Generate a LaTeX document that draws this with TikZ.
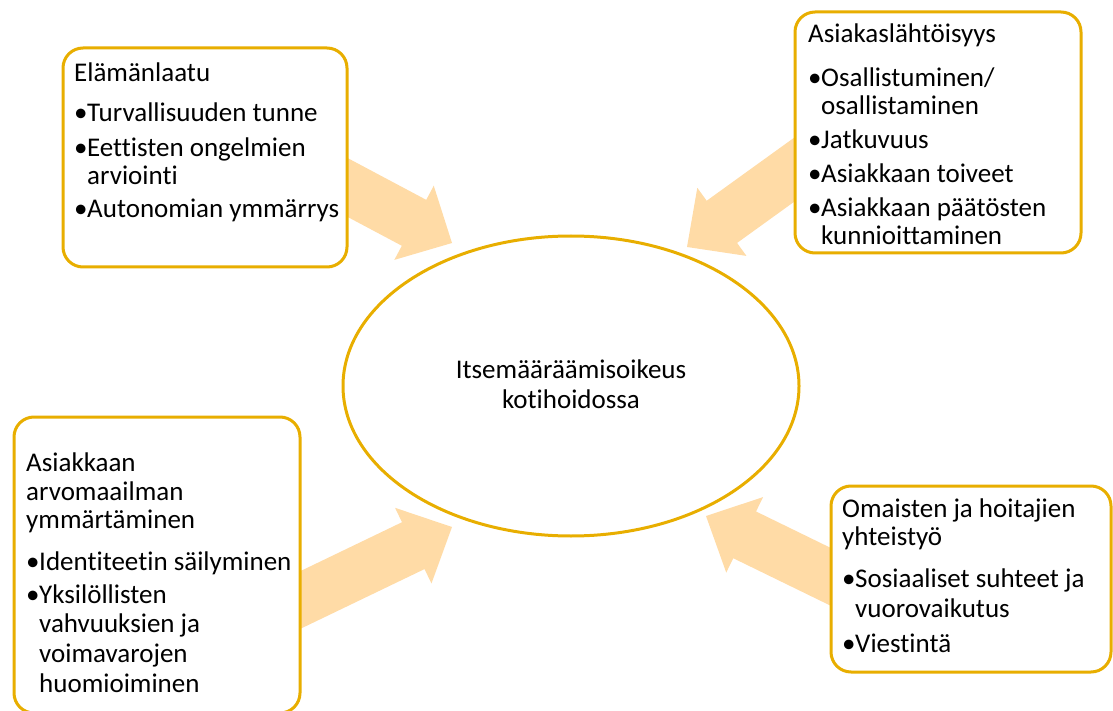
\documentclass[tikz,border=0pt]{standalone}
\usepackage{fontspec}
\setmainfont{Carlito}[Ligatures=NoCommon]
\usetikzlibrary{shapes.geometric}
\definecolor{gold}{RGB}{232,174,0}
\definecolor{peach}{RGB}{255,219,166}
\newcommand\bulletmark{\makebox[13pt][l]{•}}
\newcommand\blockarrow[3]{\fill[peach, shift={(#1)}, rotate=#2] (0,0) -- (-43,42) -- (-43,26) -- (-#3,26) -- (-#3,-26) -- (-43,-26) -- (-43,-42) -- cycle;}
\begin{document}
\begin{tikzpicture}[x=1pt,y=-1pt,
  box/.style={draw=gold, line width=3pt, rounded corners=20pt, fill=white, rectangle, anchor=north west, inner sep=0pt, outer sep=0pt},
  txt/.style={anchor=base west, inner sep=0pt, font=\fontsize{27}{28}\selectfont},
  ctxt/.style={anchor=base, inner sep=0pt, font=\fontsize{27}{28}\selectfont}]
\useasboundingbox (0,0) rectangle (1113,711);
% arrow tips
\coordinate (tip1) at (452,243);
\coordinate (tip2) at (687,247);
\coordinate (tip3) at (452,527);
\coordinate (tip4) at (706,516);
\blockarrow{tip1}{-28}{200}
\blockarrow{tip2}{215.8}{200}
\blockarrow{tip3}{25.7}{200}
\blockarrow{tip4}{154}{200}
% boxes
\node[box, minimum width=284pt, minimum height=219pt] (b1) at (63,48) {};
\node[box, minimum width=286pt, minimum height=241pt] (b2) at (795,12) {};
\node[box, minimum width=286pt, minimum height=296pt] (b3) at (14,417) {};
\node[box, minimum width=280pt, minimum height=186pt] (b4) at (831,486) {};
\node[ellipse, draw=gold, line width=3pt, minimum width=456pt, minimum height=300pt, inner sep=0pt] (c) at (571,386) {};
% texts
\foreach \x/\y/\t [count=\k] in {74/82/Elämänlaatu, 74/122/{\bulletmark Turvallisuuden tunne}, 74/157/{\bulletmark Eettisten ongelmien}, 87/185/arviointi, 74/218/{\bulletmark Autonomian ymmärrys}}
  \node[txt] (t1-\k) at (\x,\y) {\t};
\foreach \x/\y/\t [count=\k] in {808/43/Asiakaslähtöisyys, 808/87/{\bulletmark Osallistuminen/}, 821/115/osallistaminen, 808/149/{\bulletmark Jatkuvuus}, 808/183/{\bulletmark Asiakkaan toiveet}, 808/217/{\bulletmark Asiakkaan päätösten}, 821/245/kunnioittaminen}
  \node[txt] (t2-\k) at (\x,\y) {\t};
\foreach \x/\y/\t [count=\k] in {26/471/Asiakkaan, 26/500/arvomaailman, 26/528/ymmärtäminen, 26/570/{\bulletmark Identiteetin säilyminen}, 26/603/{\bulletmark Yksilöllisten}, 39/632/vahvuuksien ja, 39/662/voimavarojen, 39/692/huomioiminen}
  \node[txt] (t3-\k) at (\x,\y) {\t};
\foreach \x/\y/\t [count=\k] in {842/517/Omaisten ja hoitajien, 842/545/yhteistyö, 842/587/{\bulletmark Sosiaaliset suhteet ja}, 855/617/vuorovaikutus, 842/652/{\bulletmark Viestintä}}
  \node[txt] (t4-\k) at (\x,\y) {\t};
\node[ctxt] (c-1) at (571,378) {Itsemääräämisoikeus};
\node[ctxt] (c-2) at (571,408) {kotihoidossa};
\end{tikzpicture}
\end{document}
